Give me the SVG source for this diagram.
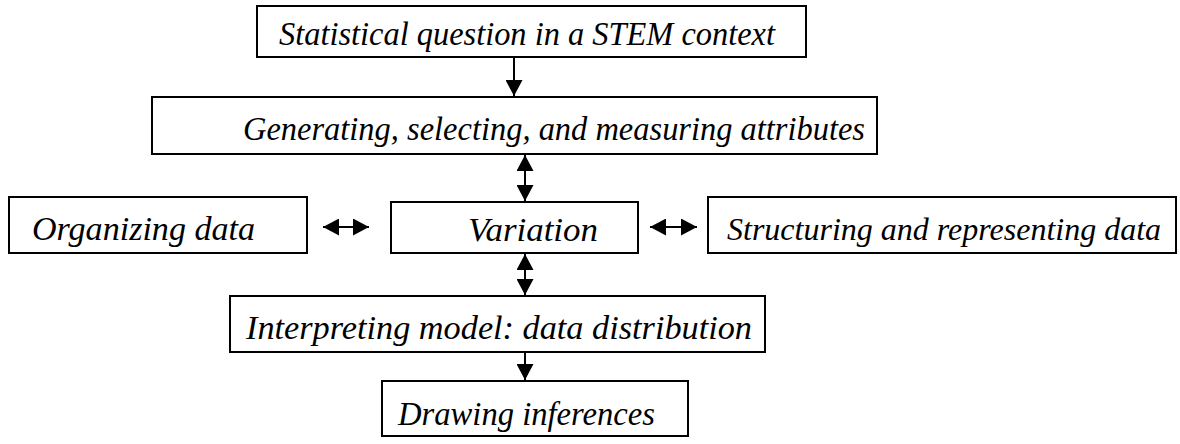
<svg xmlns="http://www.w3.org/2000/svg" width="1180" height="444" viewBox="0 0 1180 444">
<style>
.box{fill:#fff;stroke:#000;stroke-width:2}
.t{font-family:"Liberation Serif","Times New Roman",serif;font-style:italic;font-size:34px;fill:#000}
.c{stroke:#000;stroke-width:2;fill:none}
</style>
<defs>
<marker id="ah" markerUnits="userSpaceOnUse" markerWidth="16" markerHeight="17" refX="16" refY="8.5" orient="auto-start-reverse" viewBox="0 0 16 17">
<path d="M0,0 L16,8.5 L0,17 Z" fill="#000"/>
</marker>
</defs>
<rect width="1180" height="444" fill="#fff"/>
<g id="n1"><rect class="box" x="257" y="6" width="549" height="51"/><text class="t" x="279" y="45" textLength="496" lengthAdjust="spacingAndGlyphs">Statistical question in a STEM context</text></g>
<g id="n2"><rect class="box" x="152" y="97" width="725" height="57"/><text class="t" x="243" y="140" textLength="622" lengthAdjust="spacingAndGlyphs">Generating, selecting, and measuring attributes</text></g>
<g id="n3"><rect class="box" x="9" y="197" width="298" height="56"/><text class="t" x="32" y="240" textLength="223" lengthAdjust="spacingAndGlyphs">Organizing data</text></g>
<g id="n4"><rect class="box" x="391" y="202" width="247" height="51"/><text class="t" x="468" y="241" textLength="130" lengthAdjust="spacingAndGlyphs">Variation</text></g>
<g id="n5"><rect class="box" x="708" y="197" width="468" height="56"/><text class="t" style="font-size:32px" x="727" y="240">Structuring and representing data</text></g>
<g id="n6"><rect class="box" x="230" y="296" width="535" height="56"/><text class="t" x="246" y="339" textLength="506" lengthAdjust="spacingAndGlyphs">Interpreting model: data distribution</text></g>
<g id="n7"><rect class="box" x="382" y="381" width="306" height="55"/><text class="t" x="398" y="425" textLength="257" lengthAdjust="spacingAndGlyphs">Drawing inferences</text></g>
<g id="connectors">
<line class="c" x1="514" y1="57" x2="514" y2="96" marker-end="url(#ah)"/>
<line class="c" x1="525" y1="155" x2="525" y2="201" marker-start="url(#ah)" marker-end="url(#ah)"/>
<line class="c" x1="323" y1="227" x2="369" y2="227" marker-start="url(#ah)" marker-end="url(#ah)"/>
<line class="c" x1="650" y1="227" x2="697" y2="227" marker-start="url(#ah)" marker-end="url(#ah)"/>
<line class="c" x1="525" y1="254" x2="525" y2="295" marker-start="url(#ah)" marker-end="url(#ah)"/>
<line class="c" x1="525" y1="353" x2="525" y2="380" marker-end="url(#ah)"/>
</g>
</svg>
